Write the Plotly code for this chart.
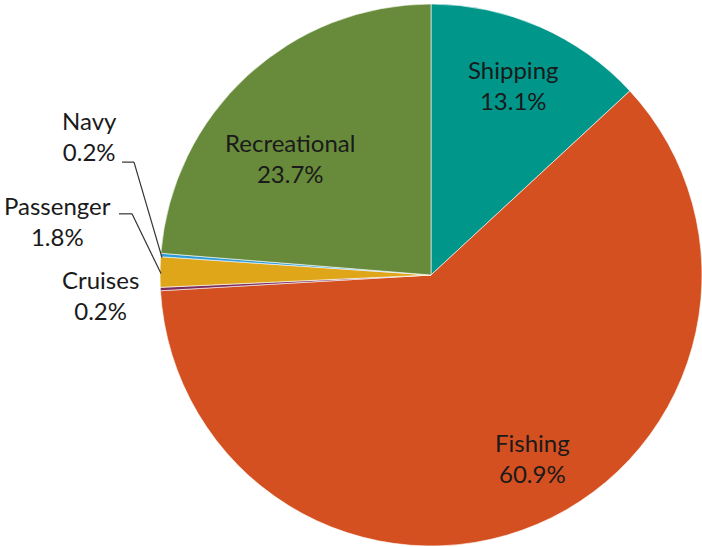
import plotly.graph_objects as go

W, H = 702, 547

# Slices in clockwise order from 12 o'clock
sectors = ["Shipping", "Fishing", "Cruises", "Passenger", "Navy", "Recreational"]
shares = [13.1, 60.9, 0.2, 1.8, 0.2, 23.7]
colors = ["#00968A", "#D55020", "#7B2D5E", "#E0A61A", "#2E9BD6", "#678B3B"]


def px(x, y):
    # pixel position -> paper coordinates
    return x / W, 1 - y / H


fig = go.Figure()
fig.add_trace(
    go.Pie(
        labels=sectors,
        values=shares,
        sort=False,
        direction="clockwise",
        rotation=0,
        marker=dict(colors=colors, line=dict(color="white", width=0.6)),
        textinfo="none",
        hoverinfo="label+percent",
        domain=dict(x=[160 / W, 1.0], y=[0, 1]),
        showlegend=False,
    )
)

# label positions (pixel centres of the two-line text blocks)
label_pos = {
    "Shipping": (513, 82),
    "Fishing": (532, 458),
    "Cruises": (100, 294),
    "Passenger": (58, 219),
    "Navy": (90, 134),
    "Recreational": (290, 156),
}

font = dict(family="Lato, 'Open Sans', sans-serif", size=24, color="#1a1a1a")
for name, val in zip(sectors, shares):
    x, y = px(*label_pos[name])
    fig.add_annotation(
        x=x, y=y, xref="paper", yref="paper",
        xanchor="center", yanchor="middle",
        text=f"{name}<br>{val:.1f}%",
        showarrow=False, font=font, align="center",
    )

# leader lines for the thin slices
leaders = [
    [(122, 160), (134, 160), (162, 256)],
    [(119, 212), (132, 212), (161, 272)],
]
for pts in leaders:
    for (x0, y0), (x1, y1) in zip(pts[:-1], pts[1:]):
        a0, b0 = px(x0, y0)
        a1, b1 = px(x1, y1)
        fig.add_shape(
            type="line", xref="paper", yref="paper",
            x0=a0, y0=b0, x1=a1, y1=b1,
            line=dict(color="#333333", width=1.2),
        )

fig.update_layout(
    width=W,
    height=H,
    margin=dict(l=0, r=0, t=3, b=0),
    paper_bgcolor="white",
    plot_bgcolor="white",
)

# drop the browser's default body margin so the figure sits at the top-left corner
fig.write_html(
    "out.html",
    config={"displayModeBar": False},
    post_script="document.body.style.margin = '0';",
)
